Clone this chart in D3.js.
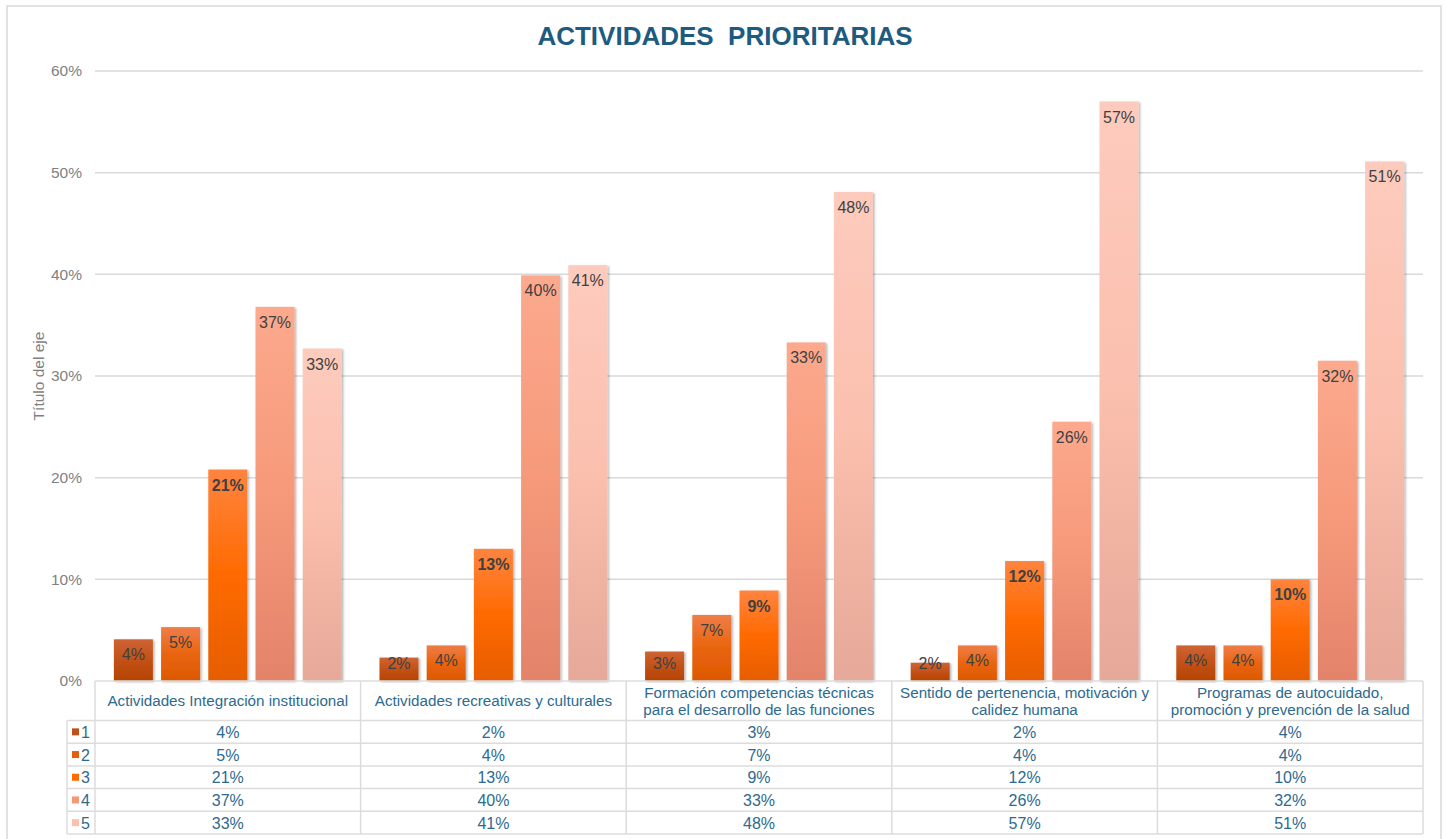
<!DOCTYPE html>
<html>
<head>
<meta charset="utf-8">
<script src="https://cdn.jsdelivr.net/npm/d3@7"></script>
<style>
  body { margin: 0; background: #fff; }
  text { font-family: "Liberation Sans", Arial, sans-serif; }
</style>
</head>
<body>
<script>
var width = 1447,
    height = 839;

// data
var categories = [
  "Actividades Integración institucional",
  "Actividades recreativas y culturales",
  "Formación competencias técnicas\npara el desarrollo de las funciones",
  "Sentido de pertenencia, motivación y\ncalidez humana",
  "Programas de autocuidado,\npromoción y prevención de la salud"
];
var seriesNames = ["1", "2", "3", "4", "5"];
var s1 = [4.1, 2.3, 2.9, 1.8, 3.5];
var s2 = [5.3, 3.5, 6.5, 3.5, 3.5];
var s3 = [20.8, 13.0, 8.9, 11.8, 10.0];
var s4 = [36.8, 39.9, 33.3, 25.5, 31.5];
var s5 = [32.7, 40.9, 48.1, 57.0, 51.1];
var yTicks = [0, 10, 20, 30, 40, 50, 60];

var series = [s1, s2, s3, s4, s5];

// gradient stops per series (top, middle, bottom)
var grads = [
  ["#cf6334", "#c25117", "#b54400"],
  ["#ef7d48", "#e9650f", "#dc5800"],
  ["#ff843f", "#ff6a00", "#e65d00"],
  ["#fca98d", "#f6997a", "#e3836a"],
  ["#fdcbbd", "#fbbfae", "#e6a898"]
];
var keyColors = ["#c0501a", "#e2600c", "#ff6a00", "#f7977a", "#fbc0b0"];

var margin = {left: 95, right: 24, top: 71};
var plotRight = width - margin.right;
var plotBottom = 681;

var svg = d3.select("body").append("svg")
    .attr("width", width)
    .attr("height", height);

var defs = svg.append("defs");
grads.forEach(function(g, i) {
  var lg = defs.append("linearGradient")
      .attr("id", "g" + i)
      .attr("x1", 0).attr("y1", 0).attr("x2", 0).attr("y2", 1);
  lg.append("stop").attr("offset", "0%").attr("stop-color", g[0]);
  lg.append("stop").attr("offset", "50%").attr("stop-color", g[1]);
  lg.append("stop").attr("offset", "100%").attr("stop-color", g[2]);
});
var f = defs.append("filter").attr("id", "shadow")
    .attr("x", "-20%").attr("y", "-5%").attr("width", "140%").attr("height", "110%");
f.append("feDropShadow").attr("dx", 1.5).attr("dy", 1).attr("stdDeviation", 1.3)
    .attr("flood-color", "#000").attr("flood-opacity", 0.3);

// chart frame
svg.append("rect")
    .attr("x", 7).attr("y", 6)
    .attr("width", 1434).attr("height", 850)
    .attr("fill", "none")
    .attr("stroke", "#d9d9d9")
    .attr("stroke-width", 1.5);

svg.append("text")
    .attr("x", 725).attr("y", 45)
    .attr("text-anchor", "middle")
    .attr("font-size", 26)
    .attr("font-weight", "bold")
    .attr("fill", "#1d5b80")
    .style("white-space", "pre")
    .text("ACTIVIDADES  PRIORITARIAS");

var x = d3.scaleBand()
    .domain(d3.range(categories.length))
    .range([margin.left, plotRight]);

var xs = d3.scaleBand()
    .domain(d3.range(series.length))
    .range([0, x.bandwidth()])
    .paddingInner(0.174)
    .paddingOuter(0.4);

var y = d3.scaleLinear()
    .domain([0, 60])
    .range([plotBottom, margin.top]);

// gridlines
svg.append("g")
  .selectAll("line")
  .data(yTicks.slice(1))
  .enter().append("line")
    .attr("x1", margin.left).attr("x2", plotRight)
    .attr("y1", function(d) { return y(d); })
    .attr("y2", function(d) { return y(d); })
    .attr("stroke", "#d9d9d9")
    .attr("stroke-width", 1.5);

// y axis labels
var yAxis = svg.append("g")
    .attr("transform", "translate(" + (margin.left - 6) + ",0)")
    .call(d3.axisLeft(y).tickValues(yTicks).tickSize(0).tickPadding(7)
      .tickFormat(function(d) { return d + "%"; }));
yAxis.select(".domain").remove();
yAxis.selectAll("text")
    .attr("font-size", 15.5)
    .attr("font-family", "Liberation Sans, Arial, sans-serif")
    .attr("fill", "#7f7f7f");

svg.append("text")
    .attr("transform", "translate(44," + y(30) + ") rotate(-90)")
    .attr("text-anchor", "middle")
    .attr("font-size", 15.5)
    .attr("fill", "#7f7f7f")
    .text("Título del eje");

// bars
var groups = svg.append("g").selectAll("g")
    .data(series)
    .enter().append("g")
    .attr("class", "series");

groups.each(function(vals, si) {
  var g = d3.select(this);
  g.selectAll("rect")
    .data(vals)
    .enter().append("rect")
      .attr("x", function(d, ci) { return x(ci) + xs(si); })
      .attr("y", function(d) { return y(d); })
      .attr("width", xs.bandwidth())
      .attr("height", function(d) { return y(0) - y(d); })
      .attr("fill", "url(#g" + si + ")")
      .attr("filter", "url(#shadow)");

  g.selectAll("text")
    .data(vals)
    .enter().append("text")
      .attr("x", function(d, ci) { return x(ci) + xs(si) + xs.bandwidth() / 2; })
      .attr("y", function(d) { return Math.min(y(d) + 21, y(0) - 12); })
      .attr("text-anchor", "middle")
      .attr("font-size", 16)
      .attr("font-weight", si === 2 ? "bold" : "normal")
      .attr("fill", "#404040")
      .text(function(d) { return Math.round(d) + "%"; });
});

// data table
var rowTop = plotBottom,
    headH = 39.5,
    rowH = 22.7,
    keyLeft = 67;
var tableBottom = rowTop + headH + rowH * series.length;
var lineColor = "#dcdcdc";
var tcol = "#2d6a8f";

var table = svg.append("g");

// horizontal lines
var hy = [rowTop, rowTop + headH].concat(d3.range(1, series.length + 1).map(function(i) { return rowTop + headH + rowH * i; }));
table.selectAll("line.h")
  .data(hy)
  .enter().append("line")
    .attr("class", "h")
    .attr("x1", function(d, i) { return i === 0 ? margin.left : keyLeft; })
    .attr("x2", plotRight)
    .attr("y1", function(d) { return d; })
    .attr("y2", function(d) { return d; })
    .attr("stroke", lineColor)
    .attr("stroke-width", 1.5);

// vertical lines
var vx = [margin.left].concat(d3.range(1, categories.length + 1).map(function(i) { return x(i - 1) + x.bandwidth(); }));
table.selectAll("line.v")
  .data(vx)
  .enter().append("line")
    .attr("class", "v")
    .attr("x1", function(d) { return d; })
    .attr("x2", function(d) { return d; })
    .attr("y1", rowTop)
    .attr("y2", tableBottom)
    .attr("stroke", lineColor)
    .attr("stroke-width", 1.5);
table.append("line")
    .attr("x1", keyLeft).attr("x2", keyLeft)
    .attr("y1", rowTop + headH).attr("y2", tableBottom)
    .attr("stroke", lineColor).attr("stroke-width", 1.5);

// header labels
categories.forEach(function(c, ci) {
  var lines = c.split("\n");
  var t = table.append("text")
      .attr("x", x(ci) + x.bandwidth() / 2)
      .attr("text-anchor", "middle")
      .attr("font-size", 15.2)
      .attr("fill", tcol);
  var cy = rowTop + headH / 2 + 5.5;
  lines.forEach(function(l, li) {
    t.append("tspan")
      .attr("x", x(ci) + x.bandwidth() / 2)
      .attr("y", cy + (li - (lines.length - 1) / 2) * 17)
      .text(l);
  });
});

// rows
series.forEach(function(vals, si) {
  var ry = rowTop + headH + rowH * si;
  table.append("rect")
      .attr("x", keyLeft + 5).attr("y", ry + rowH / 2 - 3.5)
      .attr("width", 7).attr("height", 7)
      .attr("fill", keyColors[si]);
  table.append("text")
      .attr("x", keyLeft + 14).attr("y", ry + rowH / 2 + 6)
      .attr("font-size", 16)
      .attr("fill", tcol)
      .text(seriesNames[si]);
  vals.forEach(function(v, ci) {
    table.append("text")
      .attr("x", x(ci) + x.bandwidth() / 2)
      .attr("y", ry + rowH / 2 + 6)
      .attr("text-anchor", "middle")
      .attr("font-size", 16)
      .attr("fill", tcol)
      .text(Math.round(v) + "%");
  });
});
</script>
</body>
</html>
